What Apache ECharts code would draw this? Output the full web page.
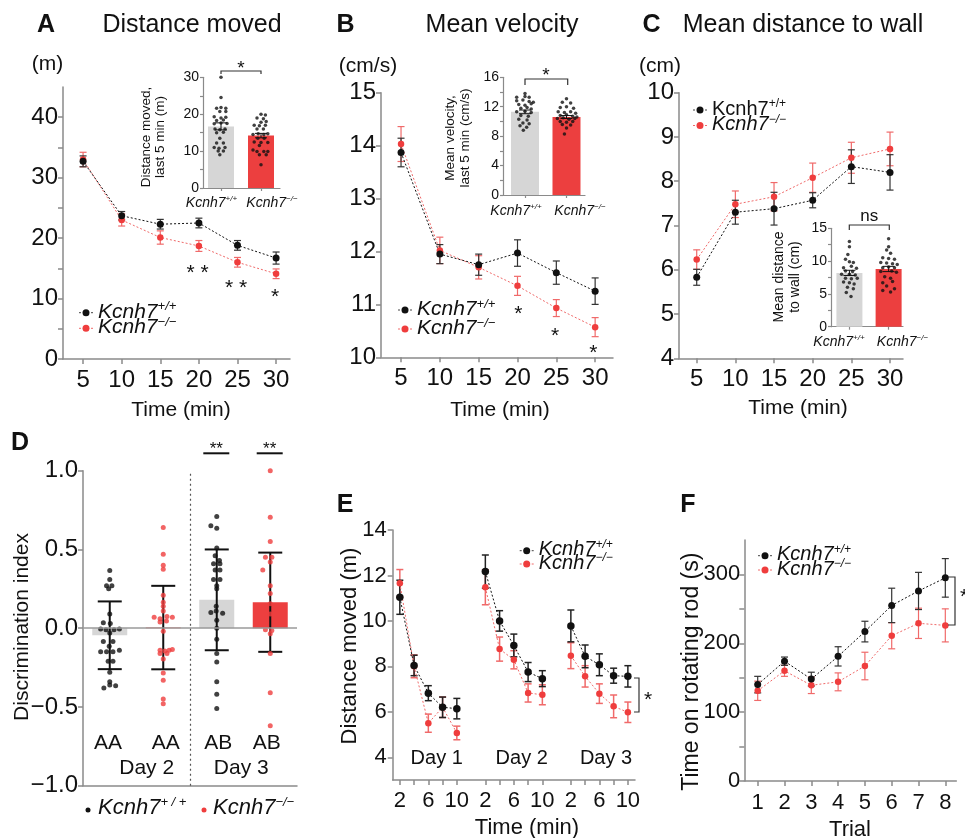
<!DOCTYPE html>
<html>
<head>
<meta charset="utf-8">
<script src="https://cdn.jsdelivr.net/npm/echarts@6/dist/echarts.min.js"></script>
<style>
  html, body { margin: 0; background: #fff; }
  #chart { width: 965px; height: 838px; }
</style>
</head>
<body>
<div id="chart"></div>
<script>
const FONT = '"Liberation Sans", Arial, Helvetica, sans-serif';
const INK = '#111111';
const RED = '#ef3d3d';
const RED_SOFT = '#f06a6a';
const BAR_GRAY = '#d6d6d6';
const BAR_RED = '#ec3f3f';
const AXIS = '#8a8a8a';

// A-C: open field, 5 min bins
const timeBins = [5, 10, 15, 20, 25, 30];
const distWt = [32.7, 23.7, 22.3, 22.5, 18.8, 16.7];
const distWtErr = [0.9, 0.7, 0.8, 0.8, 0.8, 1.0];
const distKo = [33.0, 23.0, 20.1, 18.7, 16.0, 14.1];
const distKoErr = [1.2, 1.0, 1.1, 0.9, 0.8, 0.8];
const velWt = [13.87, 11.95, 11.75, 11.97, 11.6, 11.25];
const velWtErr = [0.27, 0.18, 0.2, 0.25, 0.22, 0.25];
const velKo = [14.03, 12.02, 11.7, 11.35, 10.93, 10.57];
const velKoErr = [0.33, 0.25, 0.22, 0.18, 0.16, 0.18];
const wallWt = [5.83, 7.3, 7.38, 7.57, 8.33, 8.2];
const wallWtErr = [0.18, 0.27, 0.37, 0.17, 0.38, 0.4];
const wallKo = [6.23, 7.48, 7.65, 8.08, 8.53, 8.73];
const wallKoErr = [0.22, 0.3, 0.32, 0.33, 0.35, 0.38];

// insets: last 5 min, [mean, sem] per genotype
const distLast = [16.7, 14.2];
const distLastErr = [0.95, 0.6];
const velLast = [11.3, 10.6];
const velLastErr = [0.25, 0.2];
const wallLast = [8.2, 8.8];
const wallLastErr = [0.4, 0.4];

// individual animals: [jitter, value]
const distDotsWt = [[0,30],[0,24.5],[-0.11,21.6],[0,21.8],[0.12,21.6],[-0.03,20.7],[0.12,20.7],[-0.17,19.3],[0,19],[0.12,19.2],[-0.11,18.3],[0.06,18.4],[-0.17,17.4],[0,17.6],[0.15,17.5],[-0.15,16],[-0.03,15.8],[0.1,16],[-0.11,15],[0.06,15.1],[-0.03,13.5],[-0.11,12.2],[0.06,12.2],[-0.17,11],[-0.05,10.8],[0.1,11],[-0.07,10],[0.06,10],[-0.03,9]];
const distDotsKo = [[0,20],[0.11,19.8],[-0.1,19],[0.06,18.8],[0,17.8],[0.13,18],[-0.17,17],[-0.04,16.9],[0.11,17],[-0.1,16],[0.06,16],[-0.2,14.5],[-0.07,14.7],[0.07,14.5],[0.17,14.7],[-0.08,13.5],[0.08,13.5],[-0.17,12.5],[0,12.3],[0.17,12.3],[-0.04,11.5],[-0.2,10.3],[-0.1,9.9],[0.07,9.9],[0.17,9.9],[-0.04,9],[0.13,9],[0,6.3]];
const velDotsWt = [[0,13.8],[-0.2,13.3],[0,13.4],[0.1,13.3],[-0.2,12.8],[-0.05,12.9],[0.1,12.7],[0.2,12.6],[-0.15,12.3],[0,12.2],[0.15,12.4],[-0.1,11.8],[0.05,11.9],[0.15,11.7],[-0.2,11.3],[0,11.4],[0.15,11.2],[-0.1,10.8],[0.08,10.7],[-0.15,10.3],[0.05,10.2],[-0.05,9.8],[0.1,9.7],[-0.12,9.4],[0.04,9.2],[-0.04,8.8]];
const velDotsKo = [[0,13.1],[-0.1,12.6],[0.1,12.5],[-0.15,11.9],[0,12],[0.17,11.8],[-0.2,11.3],[-0.05,11.2],[0.1,11.3],[0.22,11.1],[-0.15,10.8],[0,10.9],[0.15,10.7],[0.25,10.6],[-0.22,10.4],[-0.08,10.5],[0.06,10.3],[0.2,10.4],[-0.15,10],[0,9.9],[0.15,10],[-0.1,9.6],[0.1,9.5],[0,9.1],[-0.05,8.3]];
const wallDotsWt = [[0,13],[0,12.2],[-0.04,11],[-0.1,10.3],[0,9.9],[0.1,9.8],[-0.15,9],[0.05,9.2],[0.18,8.9],[-0.1,8.5],[0.08,8.4],[-0.2,8],[0,8],[0.15,7.9],[-0.1,7.4],[0.05,7.3],[0.2,7.4],[-0.15,6.8],[0,6.7],[0.12,6.5],[-0.05,6],[0.1,5.8],[-0.08,5.2],[0.04,4.6]];
const wallDotsKo = [[0,13.4],[0,12.2],[-0.05,11.7],[0.05,11.2],[-0.15,10.5],[0,10.4],[0.15,10.3],[-0.2,9.8],[-0.05,9.7],[0.1,9.6],[0.22,9.5],[-0.15,9],[0,9.1],[0.15,9],[-0.2,8.4],[0.08,8.5],[0.2,8.3],[-0.1,7.6],[0.05,7.4],[-0.15,6.7],[0.1,6.9],[-0.05,6.2],[0.15,5.8],[-0.15,5.5],[0.05,5.3]];

// D: novel object, discrimination index (AA day 2, AB day 3)
const dGroups = ['AA', 'AA', 'AB', 'AB'];
const dMeans = [-0.045, 0.004, 0.18, 0.165];
const dSD = [0.215, 0.265, 0.32, 0.315];
const dDots = [
  [[0,0.367],[0,0.31],[-0.06,0.27],[0.04,0.27],[-0.02,0.25],[0,0.09],[-0.12,0.035],[0.01,0.03],[-0.17,-0.005],[-0.07,-0.01],[0.08,-0.01],[0.18,-0.005],[0,-0.03],[-0.12,-0.085],[0.06,-0.085],[-0.01,-0.115],[-0.17,-0.15],[-0.06,-0.15],[0.06,-0.15],[0.18,-0.14],[-0.03,-0.21],[0.06,-0.21],[0,-0.28],[0,-0.34],[-0.11,-0.38],[0,-0.36],[0.11,-0.365]],
  [[0,0.64],[0,0.47],[0,0.4],[0,0.375],[0,0.21],[0,0.165],[0,0.14],[0,0.11],[-0.17,0.07],[-0.06,0.06],[0.07,0.075],[0.17,0.07],[-0.06,0.04],[0.06,0.045],[0,-0.02],[-0.06,-0.14],[0.03,-0.145],[0.11,-0.14],[0.17,-0.135],[-0.06,-0.16],[0.07,-0.16],[0,-0.195],[0,-0.285],[0,-0.33],[0,-0.45],[0,-0.48]],
  [[0,0.71],[-0.11,0.65],[0,0.635],[0,0.51],[-0.03,0.46],[0.05,0.43],[-0.06,0.41],[0.06,0.41],[-0.03,0.37],[0.06,0.37],[-0.06,0.31],[0.06,0.31],[0,0.27],[0,0.25],[-0.01,0.14],[-0.11,0.1],[-0.01,0.11],[0.11,0.095],[0,0.05],[0,0.0],[0,-0.07],[0,-0.16],[0,-0.215],[0,-0.34],[0,-0.42],[0,-0.51]],
  [[0,1.0],[0,0.705],[0,0.55],[-0.09,0.45],[0.03,0.45],[0,0.42],[-0.14,0.37],[0,0.27],[0,0.22],[0,0.155],[0,0.09],[-0.09,-0.01],[0.03,-0.015],[0,-0.035],[0,-0.16],[0,-0.41],[0,-0.62]]
];

// E: distance moved per 2 min, 3 days
const eTimes = [2, 4, 6, 8, 10];
const eTimeLabels = [2, 6, 10];
const eWt = [[11.04, 8.04, 6.82, 6.2, 6.14], [12.17, 10.0, 8.92, 7.75, 7.46], [9.78, 8.44, 8.07, 7.59, 7.56]];
const eWtErr = [[0.75, 0.45, 0.33, 0.45, 0.45], [0.73, 0.45, 0.5, 0.42, 0.35], [0.7, 0.5, 0.48, 0.33, 0.47]];
const eKo = [[11.66, 8.0, 5.5, 6.2, 5.07], [11.48, 8.76, 8.29, 6.83, 6.75], [8.47, 7.56, 6.8, 6.24, 5.98]];
const eKoErr = [[0.6, 0.5, 0.4, 0.45, 0.3], [0.77, 0.53, 0.4, 0.4, 0.44], [0.57, 0.47, 0.43, 0.5, 0.45]];

// F: rotarod
const trials = [1, 2, 3, 4, 5, 6, 7, 8];
const rodWt = [140, 174, 148, 181, 217, 255, 276, 295];
const rodWtErr = [12, 6, 10, 14, 15, 25, 27, 28];
const rodKo = [131, 160, 139, 144, 167, 211, 229, 226];
const rodKoErr = [14, 8, 12, 13, 20, 19, 22, 24];

const range = (a, b, s) => { const out = []; for (let v = a; v <= b + 1e-9; v += s) out.push(+v.toFixed(3)); return out; };

function kRich(size, italic = true) {
  const st = italic ? 'italic' : 'normal';
  const sub = Math.round(size * 0.6);
  return {
    k: { fontFamily: FONT, fontSize: size, fontStyle: st, color: INK, fill: INK, lineHeight: size + 2 },
    s: { fontFamily: FONT, fontSize: sub, fontStyle: st, color: INK, fill: INK, lineHeight: sub, verticalAlign: 'top' }
  };
}
const WT = '{k|Kcnh7}{s|+/+}';
const KO = '{k|Kcnh7}{s|\u2212/\u2212}';

function mkAxis(gridIndex, min, max, ticks, labels, opt = {}) {
  const lw = opt.lw || 1.5;
  return {
    type: 'value', gridIndex, min, max,
    axisLine: { show: true, onZero: false, lineStyle: { color: AXIS, width: lw } },
    axisTick: { show: ticks.length > 0, customValues: ticks, length: opt.tick || 5, lineStyle: { color: AXIS, width: lw } },
    axisLabel: { show: labels.length > 0, customValues: labels, color: INK, fontFamily: FONT, fontSize: opt.fs || 24,
      margin: opt.margin || 6, formatter: opt.fmt },
    splitLine: { show: false }
  };
}

const errItem = (color, cap, width) => (params, api) => {
  const x = api.value(0), y = api.value(1), e = api.value(2);
  const hi = api.coord([x, y + e]), lo = api.coord([x, y - e]);
  const style = { stroke: color, lineWidth: width };
  return {
    type: 'group', children: [
      { type: 'line', shape: { x1: hi[0], y1: hi[1], x2: lo[0], y2: lo[1] }, style },
      { type: 'line', shape: { x1: hi[0] - cap, y1: hi[1], x2: hi[0] + cap, y2: hi[1] }, style },
      { type: 'line', shape: { x1: lo[0] - cap, y1: lo[1], x2: lo[0] + cap, y2: lo[1] }, style }
    ]
  };
};
const errSeries = (ax, pts, color, cap, width) => ({
  type: 'custom', xAxisIndex: ax, yAxisIndex: ax, data: pts, encode: { x: 0, y: 1 },
  renderItem: errItem(color, cap, width), silent: true, z: 3
});
const lineSeries = (ax, pts, color, size, lineColor) => ({
  type: 'line', xAxisIndex: ax, yAxisIndex: ax, data: pts, symbol: 'circle', symbolSize: size,
  itemStyle: { color }, lineStyle: { color: lineColor || color, width: 1, type: [2, 2] }, silent: true, z: 4
});
function timeCourse(ax, xs, wt, wtErr, ko, koErr) {
  return [
    errSeries(ax, xs.map((x, i) => [x, ko[i], koErr[i]]), RED_SOFT, 3.5, 1.2),
    errSeries(ax, xs.map((x, i) => [x, wt[i], wtErr[i]]), '#333', 3.5, 1.2),
    lineSeries(ax, xs.map((x, i) => [x, ko[i]]), RED, 6.5, RED_SOFT),
    lineSeries(ax, xs.map((x, i) => [x, wt[i]]), INK, 7)
  ];
}
function inset(ax, means, errs, dotsWt, dotsKo, barW) {
  return [
    { type: 'bar', xAxisIndex: ax, yAxisIndex: ax, barWidth: barW, silent: true,
      data: means.map((m, i) => ({ value: [i, m], itemStyle: { color: i ? BAR_RED : BAR_GRAY } })) },
    { type: 'scatter', xAxisIndex: ax, yAxisIndex: ax, symbolSize: 3.5, silent: true, itemStyle: { color: INK },
      data: dotsWt.map(([d, v]) => [d, v]).concat(dotsKo.map(([d, v]) => [1 + d, v])), z: 3 },
    errSeries(ax, means.map((m, i) => [i, m, errs[i]]), INK, 6, 1)
  ];
}

const grids = [
  { left: 63, top: 87, width: 227, height: 272 },
  { left: 203, top: 77.3, width: 77, height: 110.7 },
  { left: 381, top: 92.7, width: 232, height: 264.6 },
  { left: 503, top: 77.3, width: 82, height: 117.7 },
  { left: 679, top: 92.7, width: 224, height: 265.6 },
  { left: 831, top: 228.3, width: 72, height: 98.4 },
  { left: 83, top: 470.7, width: 214, height: 315 },
  { left: 392.7, top: 530, width: 242.3, height: 250 },
  { left: 744.3, top: 540, width: 212, height: 241 }
];

const insetX = { tick: 3, lw: 1.2 };
const insetY = { fs: 14, margin: 4, tick: 3, lw: 1.2 };
const dFmt = v => (v < 0 ? '\u2212' + Math.abs(v).toFixed(1) : v.toFixed(1));
const eDayPos = (d, i) => d * 6 + i;
const eTickPos = [0, 1, 2].flatMap(d => eTimes.map((t, i) => eDayPos(d, i)));
const eLabelPos = [0, 1, 2].flatMap(d => eTimeLabels.map(t => eDayPos(d, eTimes.indexOf(t))));

const xAxes = [
  mkAxis(0, 2.4, 31.8, timeBins, timeBins, { margin: 9 }),
  mkAxis(1, -0.45, 1.475, [0, 1], [], insetX),
  mkAxis(2, 2.42, 32.3, timeBins, timeBins, { margin: 9 }),
  mkAxis(3, -0.53, 1.446, [0, 1], [], insetX),
  mkAxis(4, 2.71, 31.68, timeBins, timeBins, { margin: 9 }),
  mkAxis(5, -0.47, 1.367, [0, 1], [], insetX),
  mkAxis(6, -0.5, 3.5, [], []),
  mkAxis(7, -0.5, 16.5, eTickPos, eLabelPos, { fs: 22, margin: 10, fmt: v => String(eTimes[v % 6]) }),
  mkAxis(8, 0.5, 8.41, trials, trials, { fs: 22, margin: 11 })
];
const yAxes = [
  mkAxis(0, 0, 45, range(0, 40, 5), range(0, 40, 10), { margin: 5 }),
  mkAxis(1, 0, 30, range(0, 30, 5), range(0, 30, 10), insetY),
  mkAxis(2, 10, 15, range(10, 15, 1), range(10, 15, 1), { margin: 5 }),
  mkAxis(3, 0, 16, range(0, 16, 2), range(0, 16, 4), insetY),
  mkAxis(4, 4, 10, range(4, 10, 1), range(4, 10, 1), { margin: 5 }),
  mkAxis(5, 0, 15, range(0, 15, 2.5), range(0, 15, 5), insetY),
  mkAxis(6, -1, 1, range(-1, 1, 0.5), range(-1, 1, 0.5), { margin: 5, fmt: dFmt }),
  mkAxis(7, 3, 14, range(4, 14, 2), range(4, 14, 2), { fs: 22, margin: 6 }),
  mkAxis(8, 0, 350, range(0, 300, 50), range(0, 300, 100), { fs: 22, margin: 4 })
];

const series = [
  ...timeCourse(0, timeBins, distWt, distWtErr, distKo, distKoErr),
  ...inset(1, distLast, distLastErr, distDotsWt, distDotsKo, 26),
  ...timeCourse(2, timeBins, velWt, velWtErr, velKo, velKoErr),
  ...inset(3, velLast, velLastErr, velDotsWt, velDotsKo, 28),
  ...timeCourse(4, timeBins, wallWt, wallWtErr, wallKo, wallKoErr),
  ...inset(5, wallLast, wallLastErr, wallDotsWt, wallDotsKo, 26),
  {
    type: 'bar', xAxisIndex: 6, yAxisIndex: 6, barWidth: 35, silent: true,
    data: dMeans.map((m, i) => ({ value: [i, m], itemStyle: { color: i % 2 ? BAR_RED : BAR_GRAY } })),
    markLine: {
      silent: true, symbol: 'none', label: { show: false },
      data: [
        { yAxis: 0, lineStyle: { color: '#9a9a9a', width: 1.5, type: 'solid' } },
        { xAxis: 1.5, lineStyle: { color: '#555', width: 1.2, type: [2, 3] } }
      ]
    }
  },
  ...dDots.map((dots, g) => ({
    type: 'scatter', xAxisIndex: 6, yAxisIndex: 6, symbolSize: 5, silent: true, z: 3,
    itemStyle: { color: g % 2 ? RED : INK }, data: dots.map(([d, v]) => [g + d, v])
  })),
  errSeries(6, dMeans.map((m, i) => [i, m, dSD[i]]), INK, 12, 2),
  ...[0, 1, 2].flatMap(d => [
    errSeries(7, eTimes.map((t, i) => [eDayPos(d, i), eKo[d][i], eKoErr[d][i]]), RED_SOFT, 3.5, 1.5),
    errSeries(7, eTimes.map((t, i) => [eDayPos(d, i), eWt[d][i], eWtErr[d][i]]), '#222', 3.5, 1.5),
    lineSeries(7, eTimes.map((t, i) => [eDayPos(d, i), eKo[d][i]]), RED, 6.5, RED_SOFT),
    lineSeries(7, eTimes.map((t, i) => [eDayPos(d, i), eWt[d][i]]), INK, 7.5)
  ]),
  ...timeCourse(8, trials, rodWt, rodWtErr, rodKo, rodKoErr)
];

// ---- annotations ----
function txt(x, y, text, size, o = {}) {
  return {
    type: 'text', x, y, rotation: o.rot || 0, silent: true, z: 10,
    style: { text, fontSize: size, fontFamily: FONT, fontWeight: o.bold ? 'bold' : 'normal', fontStyle: o.italic ? 'italic' : 'normal',
      fill: o.color || INK, align: o.align || 'center', verticalAlign: 'middle', lineHeight: o.lh, rich: o.rich }
  };
}
const seg = (x1, y1, x2, y2, w = 1.2, color = '#333', dash) => ({
  type: 'line', silent: true, z: 10, shape: { x1, y1, x2, y2 }, style: { stroke: color, lineWidth: w, lineDash: dash }
});
const bracket = pts => ({ type: 'polyline', silent: true, z: 10, shape: { points: pts }, style: { stroke: '#333', lineWidth: 1.2, fill: null } });
function legendItem(x, y, color, label, size, italic = true) {
  return [
    seg(x - 7, y, x + 7, y, 1, color === INK ? '#444' : RED_SOFT, [2, 2]),
    { type: 'circle', silent: true, z: 10, shape: { cx: x, cy: y, r: 3.5 }, style: { fill: color } },
    txt(x + 12, y - 1, label, size, { align: 'left', rich: kRich(size, italic) })
  ];
}
const genoLabels = (xWt, xKo, y) => [
  txt(xWt, y, WT, 14, { rich: kRich(14) }),
  txt(xKo, y, KO, 14, { rich: kRich(14) })
];
const UP = Math.PI / 2;

const elements = [
  txt(46, 25, 'A', 25, { bold: true }), txt(192, 25, 'Distance moved', 25),
  txt(345.5, 25, 'B', 25, { bold: true }), txt(502, 25, 'Mean velocity', 25),
  txt(651.5, 25, 'C', 25, { bold: true }), txt(803, 25, 'Mean distance to wall', 25),
  txt(47.5, 64, '(m)', 21), txt(368, 66, '(cm/s)', 21), txt(660, 66, '(cm)', 21),
  txt(181, 410, 'Time (min)', 21), txt(500, 410, 'Time (min)', 21), txt(798, 408, 'Time (min)', 21),
  txt(153, 137, 'Distance moved,\nlast 5 min (m)', 13.5, { rot: UP, lh: 14 }),
  txt(458, 138, 'Mean velocity,\nlast 5 min (cm/s)', 13.5, { rot: UP, lh: 15 }),
  txt(787, 277, 'Mean distance\nto wall (cm)', 14, { rot: UP, lh: 16 }),
  ...genoLabels(211.5, 272, 203), ...genoLabels(516, 580, 211), ...genoLabels(839, 902.5, 342),
  bracket([[221, 74], [221, 71], [261, 71], [261, 74]]), txt(241, 69, '*', 19),
  bracket([[525, 85], [525, 79], [567.7, 79], [567.7, 85]]), txt(546, 76, '*', 19),
  bracket([[849.3, 230], [849.3, 225], [889.3, 225], [889.3, 230]]), txt(869.3, 216.5, 'ns', 17),
  txt(197.5, 273, '* *', 21), txt(236, 288, '* *', 21), txt(275, 297, '*', 21),
  txt(518.3, 314, '*', 21), txt(555, 336, '*', 21), txt(593.3, 353, '*', 21),
  ...legendItem(86, 312.7, INK, WT, 21), ...legendItem(86, 328.3, RED, KO, 21),
  ...legendItem(405, 310, INK, WT, 21), ...legendItem(405, 329, RED, KO, 21),
  ...legendItem(700, 110, INK, WT, 20, false), ...legendItem(700, 125.5, RED, KO, 20),
  // D
  txt(20, 443, 'D', 25, { bold: true }),
  txt(22, 627, 'Discrimination index', 21, { rot: UP }),
  ...dGroups.map((g, i) => txt([108, 165.7, 218.3, 266.7][i], 743, g, 21)),
  txt(146.7, 768, 'Day 2', 21), txt(241.3, 768, 'Day 3', 21),
  txt(216.3, 449, '**', 17), seg(203.3, 453.3, 229.3, 453.3, 2, INK),
  txt(269.7, 449, '**', 17), seg(256.7, 453.3, 282.7, 453.3, 2, INK),
  { type: 'circle', silent: true, z: 10, shape: { cx: 88, cy: 810, r: 2.5 }, style: { fill: INK } },
  txt(98, 808, '{k|Kcnh7}{s|+ / +}', 22, { align: 'left', rich: kRich(22) }),
  { type: 'circle', silent: true, z: 10, shape: { cx: 204, cy: 810, r: 2.5 }, style: { fill: RED } },
  txt(213, 808, KO, 22, { align: 'left', rich: kRich(22) }),
  // E
  txt(345, 505, 'E', 25, { bold: true }),
  txt(350, 646, 'Distance moved (m)', 22, { rot: UP }),
  txt(527, 828, 'Time (min)', 22),
  txt(436.7, 758, 'Day 1', 20), txt(521.7, 758, 'Day 2', 20), txt(606, 758, 'Day 3', 20),
  bracket([[634, 678], [639, 678], [639, 712], [634, 712]]), txt(648, 700, '*', 21),
  ...legendItem(526.7, 550.7, INK, WT, 20), ...legendItem(526.7, 564, RED, KO, 20),
  // F
  txt(688, 505, 'F', 25, { bold: true }),
  txt(691.7, 671.7, 'Time on rotating rod (s)', 23, { rot: UP }),
  txt(850, 830, 'Trial', 22),
  bracket([[948, 577], [955, 577], [955, 625], [948, 625]]), txt(964, 597, '*', 21),
  ...legendItem(765, 555.7, INK, WT, 20), ...legendItem(765, 570, RED, KO, 20)
];

const chart = echarts.init(document.getElementById('chart'));
chart.setOption({
  backgroundColor: '#ffffff',
  animation: false,
  textStyle: { fontFamily: FONT },
  grid: grids,
  xAxis: xAxes,
  yAxis: yAxes,
  series,
  graphic: { elements }
});
</script>
</body>
</html>
